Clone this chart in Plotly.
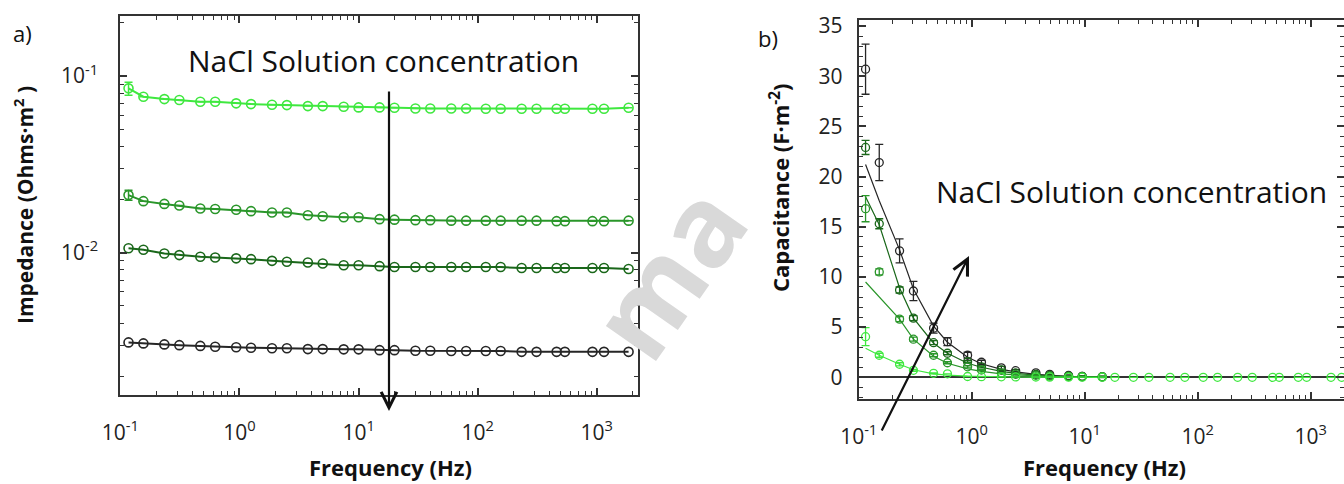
import plotly.graph_objects as go

# ---------------- data ----------------
freq_a = [0.117, 0.156, 0.234, 0.3125, 0.469, 0.625, 0.938, 1.25, 1.875, 2.5, 3.75, 5, 7.5, 10,
          15, 20, 30, 40, 60, 80, 117, 156, 234, 312, 460, 540, 920, 1150, 1850]

imp_bright = [0.0852, 0.0764, 0.0741, 0.0732, 0.0716, 0.0716, 0.0701, 0.0694, 0.0688, 0.0685,
              0.0676, 0.0676, 0.0670, 0.0665, 0.0665, 0.0662, 0.0656, 0.0656, 0.0656, 0.0656,
              0.0653, 0.0653, 0.0653, 0.0653, 0.0653, 0.0653, 0.0653, 0.0653, 0.0662]
imp_medium = [0.0212, 0.0196, 0.0189, 0.0185, 0.0178, 0.0177, 0.0175, 0.0172, 0.0169, 0.0169,
              0.0163, 0.0161, 0.0159, 0.0159, 0.0155, 0.0154, 0.0153, 0.0153, 0.0152, 0.0152,
              0.0152, 0.0152, 0.0152, 0.0152, 0.0151, 0.0151, 0.0151, 0.0151, 0.0152]
imp_dark = [0.0106, 0.0104, 0.0099, 0.0097, 0.0095, 0.0094, 0.0093, 0.0092, 0.0090, 0.0089,
            0.0088, 0.0087, 0.0085, 0.0085, 0.0084, 0.0083, 0.0083, 0.0083, 0.0083, 0.0083,
            0.0083, 0.0083, 0.0082, 0.0082, 0.0082, 0.0082, 0.0082, 0.0082, 0.0081]
imp_black = [0.00311, 0.00307, 0.00303, 0.00300, 0.00297, 0.00294, 0.00292, 0.00290, 0.00288,
             0.00288, 0.00285, 0.00285, 0.00284, 0.00284, 0.00281, 0.00281, 0.00279, 0.00279,
             0.00278, 0.00278, 0.00278, 0.00278, 0.00275, 0.00275, 0.00275, 0.00275, 0.00275,
             0.00275, 0.00275]
imp_err_bright = [0.0072] + [0] * 28
imp_err_medium = [0.0014] + [0] * 28

freq_b = [0.115, 0.152, 0.23, 0.305, 0.46, 0.61, 0.92, 1.22, 1.83, 2.45, 3.7, 4.9, 7.2, 9.5, 14.3,
          18.5, 27, 37, 57, 77, 112, 150, 226, 304, 461, 527, 777, 922, 1514, 1880]

cap_black = [30.7, 21.4, 12.6, 8.6, 4.9, 3.55, 2.2, 1.5, 0.95, 0.66, 0.45, 0.3, 0.18, 0.1, 0.06]
cap_dark = [22.9, 15.3, 8.7, 5.9, 3.45, 2.4, 1.55, 1.05, 0.73, 0.45, 0.3, 0.2, 0.12, 0.08, 0.05]
cap_medium = [16.8, 10.5, 5.8, 3.8, 2.2, 1.45, 1.05, 0.73, 0.45, 0.3, 0.2, 0.12, 0.08, 0.05, 0.03]
cap_bright = [4.05, 2.2, 1.3, 0.7, 0.4, 0.35, 0.08, 0.06, 0.05, 0.04, 0.03, 0.02, 0.02, 0.01, 0.01,
              0, 0, 0, 0, 0, 0, 0, 0, 0, 0, 0, 0, 0, 0, 0]

err_black = [2.5, 1.8, 1.2, 0.95, 0.5, 0.4, 0.3, 0.2, 0.15, 0.1, 0.1, 0.05, 0.05, 0.05, 0.05]
err_dark = [0.7, 0.5, 0.3, 0.25, 0.2, 0.15, 0.1, 0.1, 0.05, 0.05, 0.05, 0.05, 0.05, 0.05, 0.05]
err_medium = [1.3, 0.3, 0.25, 0.2, 0.15, 0.1, 0.1, 0.05, 0.05, 0.05, 0.05, 0.05, 0.05, 0.05, 0.05]
err_bright = [0.9, 0.2, 0.15, 0.1, 0.05] + [0] * 25

fit_black = [21.2, 17.6, 12.7, 8.8, 5.1, 3.5, 2.0, 1.35, 0.8, 0.55, 0.3, 0.2, 0.1, 0.07, 0.04]
fit_dark = [18.0, 15.2, 8.9, 5.9, 3.4, 2.4, 1.4, 1.0, 0.6, 0.4, 0.22, 0.14, 0.07, 0.05, 0.03]
fit_medium = [9.5, 8.0, 5.8, 3.8, 2.1, 1.4, 0.85, 0.6, 0.35, 0.25, 0.14, 0.09, 0.05, 0.03, 0.02]
fit_bright = [2.9, 2.2, 1.3, 0.75, 0.35, 0.22, 0.12, 0.08, 0.05, 0.03, 0.02, 0.01, 0.01, 0.0, 0.0]

x_tickvals = [0.1, 1, 10, 100, 1000]
x_ticktext = ["10<sup>-1</sup>", "10<sup>0</sup>", "10<sup>1</sup>", "10<sup>2</sup>", "10<sup>3</sup>"]
ya_tickvals = [0.01, 0.1]
ya_ticktext = ["10<sup>-2</sup>", "10<sup>-1</sup>"]
yb_tickvals = [0, 5, 10, 15, 20, 25, 30, 35]

C_BRIGHT = "#3fe83f"
C_MED = "#2a962a"
C_DARK = "#1a671a"
C_BLACK = "#262626"

W, H = 1344, 484
FONT = "Open Sans"

fig = go.Figure()

# ---------------- panel a ----------------
for vals, col, err in [(imp_bright, C_BRIGHT, imp_err_bright), (imp_medium, C_MED, imp_err_medium),
                       (imp_dark, C_DARK, None), (imp_black, C_BLACK, None)]:
    tr = dict(x=freq_a, y=vals, mode="lines+markers", xaxis="x", yaxis="y",
              line=dict(color=col, width=2),
              marker=dict(symbol="circle-open", size=9, color=col, line=dict(width=1.6, color=col)),
              showlegend=False, cliponaxis=False)
    if err is not None:
        tr["error_y"] = dict(type="data", array=err, visible=True, color=col, thickness=1.5, width=4)
    fig.add_trace(go.Scatter(**tr))

# ---------------- panel b ----------------
for fit, col in [(fit_black, C_BLACK), (fit_dark, C_DARK), (fit_medium, C_MED)]:
    fig.add_trace(go.Scatter(x=freq_b[:len(fit)], y=fit, mode="lines", xaxis="x2", yaxis="y2",
                             line=dict(color=col, width=1.2), showlegend=False))
fig.add_trace(go.Scatter(x=freq_b[:len(fit_bright)], y=fit_bright, mode="lines", xaxis="x2", yaxis="y2",
                         line=dict(color=C_BRIGHT, width=1.2), showlegend=False))

for vals, col, err in [(cap_black, C_BLACK, err_black), (cap_dark, C_DARK, err_dark),
                       (cap_medium, C_MED, err_medium), (cap_bright, C_BRIGHT, err_bright)]:
    fig.add_trace(go.Scatter(x=freq_b[:len(vals)], y=vals, mode="markers", xaxis="x2", yaxis="y2",
                             marker=dict(symbol="circle-open", size=8, color=col,
                                         line=dict(width=1.3, color=col)),
                             error_y=dict(type="data", array=err, visible=True, color=col,
                                          thickness=1.3, width=4),
                             showlegend=False))

axis_common = dict(showline=True, linecolor="#333", linewidth=2, mirror="allticks",
                   showgrid=False, ticks="inside", ticklen=7, tickwidth=1.5, automargin=False,
                   tickcolor="#333", tickfont=dict(family=FONT, size=21, color="#222"))

minor_log_a = [m * 10 ** e for e in (-3, -2, -1) for m in range(2, 10)]
minor_log_x = [m * 10 ** e for e in (-1, 0, 1, 2, 3) for m in range(2, 10)]

fig.update_layout(
    width=W, height=H, margin=dict(l=0, r=0, t=0, b=0, pad=0, autoexpand=False),
    paper_bgcolor="white", plot_bgcolor="white",
    xaxis=dict(domain=[120.4 / W, 637.5 / W], type="log", range=[-1, 3.342], anchor="y",
               tickmode="array", tickvals=x_tickvals, ticktext=x_ticktext, ticklabelstandoff=18,
               zeroline=False,
               minor=dict(tickmode="array", tickvals=minor_log_x, ticks="inside", ticklen=4,
                          tickcolor="#333", tickwidth=1.2),
               **axis_common),
    yaxis=dict(domain=[1 - 395 / H, 1 - 16 / H], type="log", range=[-2.805, -0.66], anchor="x",
               tickmode="array", tickvals=ya_tickvals, ticktext=ya_ticktext, ticklabelstandoff=16,
               zeroline=False,
               minor=dict(tickmode="array", tickvals=minor_log_a, ticks="inside", ticklen=4,
                          tickcolor="#333", tickwidth=1.2),
               **axis_common),
    xaxis2=dict(domain=[858.7 / W, 1.0], type="log", range=[-1, 3.295], anchor="y2",
                tickmode="array", tickvals=x_tickvals, ticktext=x_ticktext, ticklabelstandoff=18,
                zeroline=False,
                minor=dict(tickmode="array", tickvals=minor_log_x, ticks="inside", ticklen=4,
                           tickcolor="#333", tickwidth=1.2),
                **axis_common),
    yaxis2=dict(domain=[1 - 399 / H, 1 - 20 / H], range=[-2.16, 35.6], anchor="x2",
                tickmode="array", tickvals=yb_tickvals, ticklabelstandoff=10,
                minor=dict(dtick=1, ticks="inside", ticklen=4, tickcolor="#333", tickwidth=1.2),
                zeroline=True, zerolinecolor="#333", zerolinewidth=1.5,
                **axis_common),
)


def px(x):
    return x / W


def py(y):
    return 1 - y / H


def txt(x, y, text, size, bold=False, angle=0, color="#111"):
    return dict(x=px(x), y=py(y), xref="paper", yref="paper", xanchor="center", yanchor="middle",
                text=f"<b>{text}</b>" if bold else text, showarrow=False, textangle=angle,
                font=dict(family=FONT, size=size, color=color))


ann = [
    txt(666, 270, "ma", 112, bold=True, angle=-55, color="#d9d9d9"),
    txt(22, 33, "a)", 22),
    txt(768, 38, "b)", 22),
    txt(383, 60, "NaCl Solution concentration", 30),
    txt(1131, 191, "NaCl Solution concentration", 30),
    txt(390, 467, "Frequency (Hz)", 22, bold=True),
    txt(1104, 467, "Frequency (Hz)", 22, bold=True),
    txt(23, 205, "Impedance (Ohms·m<sup>2</sup> )", 21, bold=True, angle=-90),
    txt(779, 188, "Capacitance (F·m<sup>-2</sup>)", 22, bold=True, angle=-90),
]
# arrows
ann.append(dict(x=px(389), y=py(411), xref="paper", yref="paper", ax=0, ay=-321, axref="pixel",
                ayref="pixel", text="", showarrow=True, arrowhead=5, arrowsize=1.4, arrowwidth=2.2,
                arrowcolor="#111"))
ann.append(dict(x=px(969), y=py(256), xref="paper", yref="paper", ax=-88, ay=176, axref="pixel",
                ayref="pixel", text="", showarrow=True, arrowhead=5, arrowsize=1.4, arrowwidth=2.2,
                arrowcolor="#111"))
fig.update_layout(annotations=ann)

fig.write_html("out.html")
